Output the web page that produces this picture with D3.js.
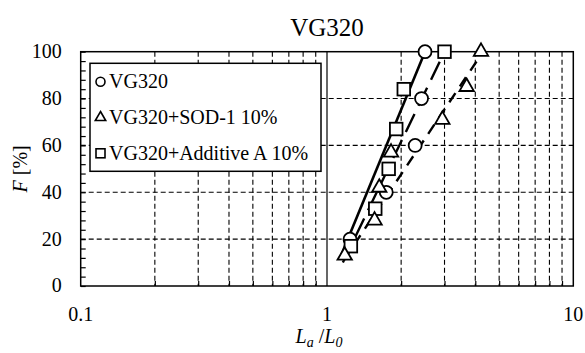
<!DOCTYPE html>
<html>
<head>
<meta charset="utf-8">
<script src="https://cdn.jsdelivr.net/npm/d3@7"></script>
<style>
  body { margin: 0; background: #fff; }
</style>
</head>
<body>
<div id="chart"></div>
<script>
// Donnees
const seriesNames = ["VG320", "VG320+SOD-1 10%", "VG320+Additive A 10%"];

const vg320X = [1.24, 1.74, 2.28, 2.42, 2.50];
const vg320F = [20, 40, 60, 80, 100];

const sodX = [1.18, 1.56, 1.63, 1.82, 2.94, 3.69, 4.22];
const sodF = [13, 28, 42, 57, 71, 85, 100];

const additiveX = [1.25, 1.57, 1.78, 1.91, 2.05, 3.0];
const additiveF = [17, 33, 50, 67, 84, 100];

// droites d'ajustement (extremites)
const vg320FitX = [1.13, 2.50];
const vg320FitF = [12, 100];
const sodFitX = [1.17, 4.3];
const sodFitF = [11, 100];
const additiveFitX = [1.16, 3.0];
const additiveFitF = [10, 100];

const xTickValues = [0.1, 1, 10];
const yTickValues = [0, 20, 40, 60, 80, 100];

const FONT = "'Liberation Serif'";

const width = 585, height = 353;
const margin = {top: 51.7, right: 11.7, bottom: 67, left: 80.7};
const innerW = width - margin.left - margin.right;
const innerH = height - margin.top - margin.bottom;

const svg = d3.select("#chart").append("svg")
  .attr("width", width).attr("height", height)
  .style("display", "block");

const x = d3.scaleLog().domain([0.1, 10]).range([0, innerW]);
const y = d3.scaleLinear().domain([0, 100]).range([innerH, 0]);

const g = svg.append("g")
  .attr("transform", "translate(" + margin.left + "," + margin.top + ")");

// valeurs mineures log
const minorX = [];
[0.1, 1].forEach(dec => { for (let k = 2; k <= 9; k++) minorX.push(+(dec * k).toFixed(2)); });

// grille verticale
g.selectAll(".vgrid").data(minorX).enter().append("line")
  .attr("x1", d => x(d)).attr("x2", d => x(d))
  .attr("y1", 0).attr("y2", innerH)
  .attr("stroke", "#000").attr("stroke-width", 1.1)
  .attr("stroke-dasharray", "5,3");

// grille horizontale
g.selectAll(".hgrid").data([20, 40, 60, 80]).enter().append("line")
  .attr("x1", 0).attr("x2", innerW)
  .attr("y1", d => y(d)).attr("y2", d => y(d))
  .attr("stroke", "#000").attr("stroke-width", 1.1)
  .attr("stroke-dasharray", "5,3");

// ligne x = 1
g.append("line")
  .attr("x1", x(1)).attr("x2", x(1)).attr("y1", 0).attr("y2", innerH)
  .attr("stroke", "#000").attr("stroke-width", 1.2);

// Axes (graduations interieures)
const xAxis = d3.axisBottom(x).tickValues(minorX).tickSize(-5).tickFormat("");
g.append("g").attr("transform", "translate(0," + innerH + ")").call(xAxis)
  .call(s => s.select(".domain").remove())
  .selectAll("line").attr("stroke-width", 1.2);

const minorY = d3.range(0, 101, 4);
const yAxis = d3.axisLeft(y).tickValues(minorY).tickSize(-5).tickFormat("");
g.append("g").call(yAxis)
  .call(s => s.select(".domain").remove())
  .selectAll("line").attr("stroke-width", 1.2);

// etiquettes
g.selectAll(".xlab").data(xTickValues).enter().append("text")
  .attr("x", d => x(d)).attr("y", innerH + 35)
  .attr("text-anchor", "middle").attr("font-size", 20)
  .style("font-family", FONT)
  .text(d => d);

g.selectAll(".ylab").data(yTickValues).enter().append("text")
  .attr("x", -19).attr("y", d => y(d) + 6.5)
  .attr("text-anchor", "end").attr("font-size", 20)
  .style("font-family", FONT)
  .text(d => d);

// cadre
g.append("rect").attr("width", innerW).attr("height", innerH)
  .attr("fill", "none").attr("stroke", "#000").attr("stroke-width", 1.5);

// Legende
const legend = svg.append("g").attr("transform", "translate(90,63.3)");
legend.append("rect").attr("width", 231).attr("height", 108)
  .attr("fill", "#fff").attr("stroke", "#000").attr("stroke-width", 1.5);

// Droites
const line = d3.line().x(d => x(d[0])).y(d => y(d[1]));
const fits = [
  {xs: vg320FitX, fs: vg320FitF, dash: null, w: 2.6},
  {xs: additiveFitX, fs: additiveFitF, dash: "20,9", w: 2.4},
  {xs: sodFitX, fs: sodFitF, dash: "11,8", w: 2.4}
];
fits.forEach(f => {
  g.append("path")
    .datum(d3.zip(f.xs, f.fs))
    .attr("d", line)
    .attr("fill", "none").attr("stroke", "#000")
    .attr("stroke-width", f.w)
    .attr("stroke-dasharray", f.dash);
});

// Marqueurs
function drawMarker(sel, shape, s) {
  if (shape === "circle") {
    sel.append("circle").attr("r", s);
  } else if (shape === "square") {
    sel.append("rect").attr("x", -s).attr("y", -s).attr("width", 2 * s).attr("height", 2 * s);
  } else {
    const h = s * 1.73;
    sel.append("path").attr("d", "M0," + (-h * 2 / 3) + "L" + s + "," + (h / 3) + "L" + (-s) + "," + (h / 3) + "Z");
  }
}

const markerSeries = [
  {xs: vg320X, fs: vg320F, shape: "circle", size: 6.5},
  {xs: additiveX, fs: additiveF, shape: "square", size: 6.3},
  {xs: sodX, fs: sodF, shape: "triangle", size: 7.2}
];
markerSeries.forEach(sr => {
  d3.zip(sr.xs, sr.fs).forEach(p => {
    const m = g.append("g")
      .attr("transform", "translate(" + x(p[0]) + "," + y(p[1]) + ")")
      .attr("fill", "#fff").attr("stroke", "#000").attr("stroke-width", 1.8);
    drawMarker(m, sr.shape, sr.size);
  });
});

// entrees de legende
const legendShapes = ["circle", "triangle", "square"];
const legendSizes = [4.5, 5.2, 4.5];
seriesNames.forEach((name, i) => {
  const ry = 18.4 + i * 35.8;
  const m = legend.append("g").attr("transform", "translate(10.5," + ry + ")")
    .attr("fill", "#fff").attr("stroke", "#000").attr("stroke-width", 1.6);
  drawMarker(m, legendShapes[i], legendSizes[i]);
  legend.append("text").attr("x", 19).attr("y", ry + 6.5)
    .attr("font-size", 20).style("font-family", FONT).text(name);
});

// Titre
svg.append("text").attr("x", margin.left + x(1)).attr("y", 36)
  .attr("text-anchor", "middle").attr("font-size", 25)
  .style("font-family", FONT).text("VG320");

// Titres d'axes
const yLabel = svg.append("text")
  .attr("transform", "translate(27," + (margin.top + innerH / 2) + ") rotate(-90)")
  .attr("text-anchor", "middle").attr("font-size", 20)
  .style("font-family", FONT);
yLabel.append("tspan").attr("font-style", "italic").text("F");
yLabel.append("tspan").text(" [%]");

const xLabel = svg.append("text")
  .attr("x", margin.left + x(1) - 8).attr("y", 343)
  .attr("text-anchor", "middle").attr("font-size", 20).attr("font-style", "italic")
  .style("font-family", FONT);
xLabel.append("tspan").text("L");
xLabel.append("tspan").attr("font-size", 14).attr("dy", 4).text("a");
xLabel.append("tspan").attr("dy", -4).attr("font-style", "normal").text(" /");
xLabel.append("tspan").text("L");
xLabel.append("tspan").attr("font-size", 14).attr("dy", 4).text("0");
</script>
</body>
</html>
